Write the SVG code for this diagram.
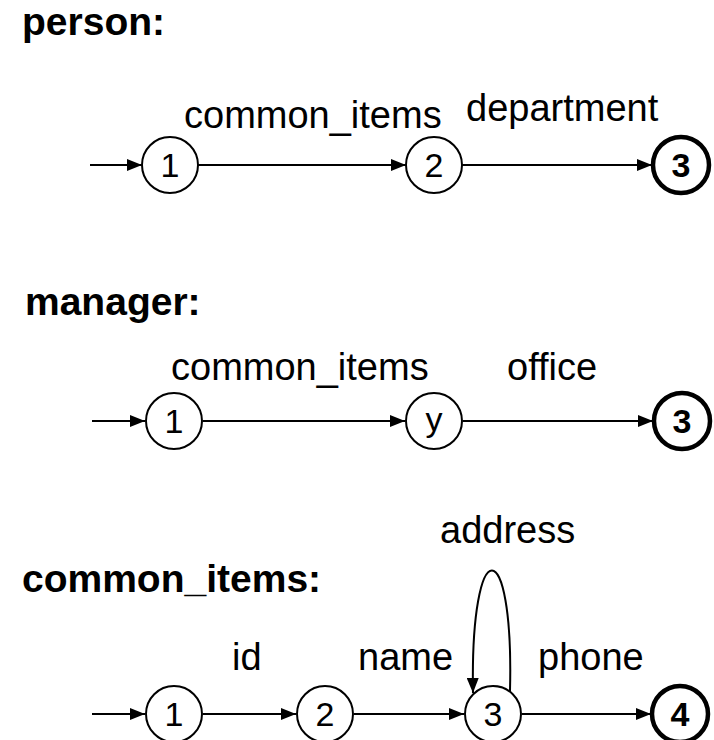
<svg xmlns="http://www.w3.org/2000/svg" width="714" height="740" viewBox="0 0 714 740">
<style>
.title{font-family:"Liberation Sans",Arial,sans-serif;font-weight:bold;font-size:39px;fill:#000}
.lbl{font-family:"Liberation Sans",Arial,sans-serif;font-size:38px;fill:#000}
.st circle{fill:#fff;stroke:#000;stroke-width:2}
.st.final circle{stroke-width:4.5}
.st text{font-family:"Liberation Sans",Arial,sans-serif;font-size:34px;text-anchor:middle;fill:#000}
.st.final text{font-weight:bold}
.edge{fill:none;stroke:#000;stroke-width:2;marker-end:url(#ah)}
</style>
<defs>
<marker id="ah" markerUnits="userSpaceOnUse" markerWidth="15" markerHeight="12" refX="15" refY="6" orient="auto">
<path d="M0,0 L15,6 L0,12 z" fill="#000"/>
</marker>
</defs>
<rect width="714" height="740" fill="#fff"/>
<text class="title" x="22" y="35">person:</text>
<text class="title" x="25" y="315">manager:</text>
<text class="title" x="22" y="592">common_items:</text>
<g id="connectors">
<line class="edge" x1="90" y1="165" x2="142" y2="165"/>
<line class="edge" x1="198" y1="165" x2="406" y2="165"/>
<line class="edge" x1="462" y1="165" x2="652" y2="165"/>
<line class="edge" x1="92" y1="421" x2="145" y2="421"/>
<line class="edge" x1="203" y1="421" x2="405" y2="421"/>
<line class="edge" x1="463" y1="421" x2="653" y2="421"/>
<line class="edge" x1="92" y1="714" x2="145" y2="714"/>
<line class="edge" x1="203" y1="714" x2="296" y2="714"/>
<line class="edge" x1="354" y1="714" x2="464" y2="714"/>
<line class="edge" x1="522" y1="714" x2="651" y2="714"/>
<path class="edge" d="M510,691 C514,530 470,530 473,693"/>
</g>
<g id="edge-labels">
<text class="lbl" x="184" y="128">common_items</text>
<text class="lbl" x="466" y="121">department</text>
<text class="lbl" x="171" y="380">common_items</text>
<text class="lbl" x="507" y="380">office</text>
<text class="lbl" x="232" y="670">id</text>
<text class="lbl" x="358" y="670">name</text>
<text class="lbl" x="538" y="670">phone</text>
<text class="lbl" x="440" y="543">address</text>
</g>
<g id="p1" class="st"><circle cx="170" cy="165" r="28"/><text x="170" y="177">1</text></g>
<g id="p2" class="st"><circle cx="434" cy="165" r="28"/><text x="434" y="177">2</text></g>
<g id="p3" class="st final"><circle cx="681" cy="165" r="28"/><text x="681" y="177">3</text></g>
<g id="m1" class="st"><circle cx="174" cy="421" r="28"/><text x="174" y="433">1</text></g>
<g id="my" class="st"><circle cx="434" cy="421" r="28"/><text x="434" y="431">y</text></g>
<g id="m3" class="st final"><circle cx="682" cy="421" r="28"/><text x="682" y="433">3</text></g>
<g id="c1" class="st"><circle cx="174" cy="714" r="28"/><text x="174" y="726">1</text></g>
<g id="c2" class="st"><circle cx="325" cy="714" r="28"/><text x="325" y="726">2</text></g>
<g id="c3" class="st"><circle cx="493" cy="714" r="28"/><text x="493" y="726">3</text></g>
<g id="c4" class="st final"><circle cx="680" cy="714" r="28"/><text x="680" y="726">4</text></g>
</svg>
